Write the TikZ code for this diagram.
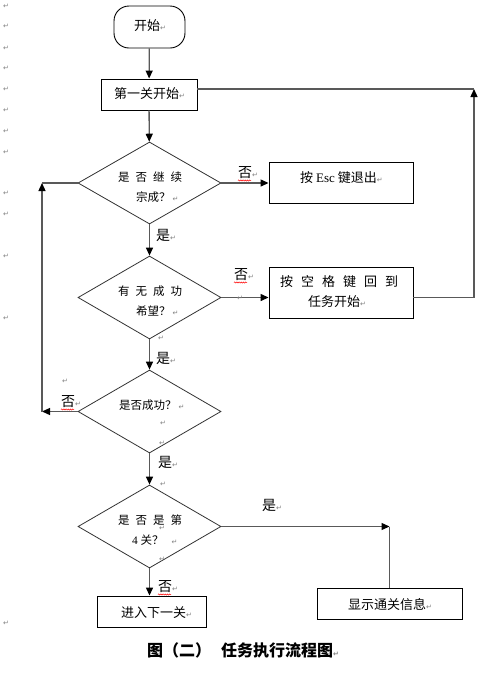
\documentclass[tikz,border=0pt]{standalone}
\usepackage{fontspec}
\setmainfont{Liberation Serif}
\newfontfamily\cjk{Noto Sans CJK SC}
\newfontfamily\dv{DejaVu Sans}
\usetikzlibrary{shapes.geometric,arrows.meta,decorations.pathmorphing}
\newcommand\pmk{{\dv\color{gray}\fontsize{7}{7}\selectfont ↵}}
\begin{document}
\begin{tikzpicture}[x=1pt,y=-1pt,
  box/.style={draw=black, line width=0.9pt, inner sep=0pt},
  dia/.style={draw=black!80, line width=0.8pt, diamond, inner sep=0pt, aspect=1.72},
  txt/.style={inner sep=0pt, anchor=west, font=\cjk\fontsize{13}{13}\selectfont},
  dtxt/.style={inner sep=0pt, anchor=west, font=\cjk\fontsize{11.5}{11.5}\selectfont},
  lbl/.style={inner sep=0pt, anchor=west, font=\cjk\fontsize{14}{14}\selectfont},
  mk/.style={inner sep=0pt},
  conn/.style={draw=black!65, line width=1.3pt},
  arr/.style={conn, -{Triangle[length=8pt,width=7pt,color=black]}},
  wavy/.style={draw=red, line width=0.5pt, decorate, decoration={snake, amplitude=0.6pt, segment length=2.2pt}}
]
\useasboundingbox[fill=white] (0,0) rectangle (493,673);

% margin paragraph marks
\foreach \yy [count=\i] in {6,26,48,68,89,110,131,152,193,214,256,318,623}
  \node[mk] (m\i) at (6,\yy) {\pmk};

% shapes
\node[box, rounded corners=15pt, minimum width=71pt, minimum height=42pt] (start) at (149.5,27) {};
\node[box, minimum width=96pt, minimum height=31pt] (b1) at (149,94.5) {};
\node[dia, minimum width=143pt, minimum height=82pt] (d1) at (149.5,183) {};
\node[box, minimum width=144pt, minimum height=41pt] (esc) at (341,182.5) {};
\node[dia, minimum width=143pt, minimum height=83pt] (d2) at (149.5,297.5) {};
\node[box, minimum width=144pt, minimum height=51pt] (b2) at (341,292.5) {};
\node[dia, minimum width=143pt, minimum height=83pt] (d3) at (149.5,411.5) {};
\node[dia, minimum width=143pt, minimum height=83pt] (d4) at (149.5,526.5) {};
\node[box, minimum width=145pt, minimum height=31pt] (show) at (389.5,603.5) {};
\node[box, minimum width=109pt, minimum height=31pt] (next) at (151.5,611.5) {};

% texts
\node[txt] (tstart) at (134,26) {开始\pmk};
\node[txt] (tb1) at (114,94) {第一关开始\pmk};
\node[dtxt] (td1a) at (118,177) {是\hspace{6pt}否\hspace{6pt}继\hspace{6pt}续};
\node[dtxt] (td1b) at (136,197) {宗成？\,\pmk};
\node[txt] (tesc) at (300,178) {按 {\rmfamily Esc} 键退出\pmk};
\node[dtxt] (td2a) at (118,291) {有\hspace{6pt}无\hspace{6pt}成\hspace{6pt}功};
\node[dtxt] (td2b) at (136,311) {希望？\,\pmk};
\node[txt] (tb2a) at (280,282) {按\hspace{8pt}空\hspace{8pt}格\hspace{8pt}键\hspace{8pt}回\hspace{8pt}到};
\node[txt] (tb2b) at (308,302) {任务开始\pmk};
\node[dtxt] (td3) at (119,405) {是否成功？\,\pmk};
\node[mk] (md3a) at (163,423) {\pmk};
\node[mk] (md3b) at (162,443) {\pmk};
\node[mk] (md2) at (161,338) {\pmk};
\node[dtxt] (td4a) at (118,520) {是\hspace{6pt}否\hspace{6pt}是\hspace{6pt}第};
\node[dtxt] (td4b) at (132,540) {{\rmfamily 4} 关？\hspace{8pt}\pmk};
\node[mk] (md4a) at (163,484) {\pmk};
\node[mk] (md4b) at (162,528) {\pmk};
\node[mk] (md4c) at (162,559) {\pmk};
\node[txt] (tshow) at (348,605) {显示通关信息\pmk};
\node[txt] (tnext) at (121,613) {进入下一关\pmk};

% connectors
\draw[arr] (start) -- (b1);
\draw[arr] (b1) -- (d1);
\draw[arr] (d1.east) -- (d1.east -| esc.west);
\draw[arr] (d1) -- (d2);
\draw[arr] (d2.east) -- (d2.east -| b2.west);
\node[mk] (ml2) at (240,298) {\pmk};
\draw[arr] (d2) -- (d3);
\draw[arr] (d3) -- (d4);
\draw[arr] (d4.south) -- (d4.south |- next.north);

\coordinate (cr) at (474,89);
\draw[arr] (d2.east -| b2.east) -- (d2.east -| cr) -- (cr);
\draw[conn] (cr) -- (cr -| b1.east);

\coordinate (cl) at (42,410.5);
\draw[arr] (d3.west) -- (d3.west -| cl);
\draw[arr] (d3.west -| cl) -- (d1.west -| cl);
\draw[conn] (d1.west -| cl) -- (d1.west);

\draw[arr] (d4.east) -- (d4.east -| show);
\draw[conn] (d4.east -| show) -- (show.north);

% branch labels
\node[lbl] (n1) at (238,173) {否\pmk};
\node[lbl] (n2) at (234,275) {否\pmk};
\node[lbl] (n3) at (61,402) {否\pmk};
\node[lbl] (n4) at (158,587) {否\pmk};
\node[mk] (m3x) at (65,381) {\pmk};
\foreach \n in {n1,n2,n3,n4}
  \draw[wavy] ([yshift=-7.5pt]\n.west) -- ++(13,0);
\node[lbl] (y1) at (156,235) {是\pmk};
\node[lbl] (y2) at (156,358) {是\pmk};
\node[lbl] (y3) at (158,462) {是\pmk};
\node[lbl] (y4) at (262,505) {是\pmk};

% caption
\node[inner sep=0pt, anchor=west, font=\cjk\bfseries\fontsize{16}{16}\selectfont] (cap) at (147,650) {图（二）\hspace{10pt}任务执行流程图\pmk};
\end{tikzpicture}
\end{document}
